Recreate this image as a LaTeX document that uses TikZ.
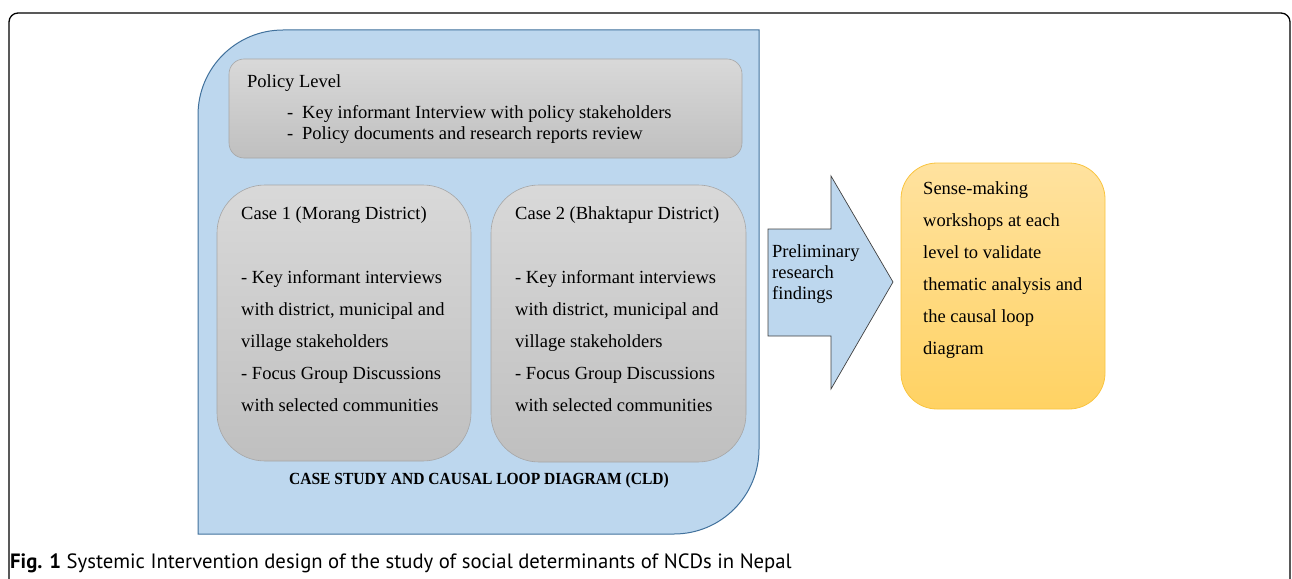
\documentclass[tikz,border=0pt]{standalone}
\usepackage{fontspec}
\setmainfont{Liberation Serif}
\newfontfamily\capfont{PT Sans}
\begin{document}
\begin{tikzpicture}[x=1pt,y=-1pt,
  graybox/.style={draw=black!35, top color=black!15, bottom color=black!25, line width=0.6pt},
  txt/.style={anchor=north west, inner sep=0pt, align=left, text=black},
  body/.style={font=\fontsize{18.5}{32}\selectfont},
  tight/.style={font=\fontsize{18.5}{21}\selectfont},
]
\useasboundingbox (0,0) rectangle (1292,578);
\definecolor{bluefill}{HTML}{BDD7EE}
\definecolor{blueline}{HTML}{41719C}
\definecolor{orangetop}{HTML}{FFE29F}
\definecolor{orangebot}{HTML}{FFD263}
\definecolor{orangeline}{HTML}{F9C43F}
\begin{scope}
\clip (0,0) rectangle (1292,578);
\draw[line width=1.3pt, rounded corners=9pt] (9,13) rectangle (1290,640);
\end{scope}
% blue container
\path[fill=bluefill, draw=blueline, line width=1pt]
  (198,534) -- (198,115) arc[start angle=180, end angle=270, radius=85] -- (759,30)
  -- (759,449) arc[start angle=0, end angle=90, radius=85] -- cycle;
% policy box
\path[graybox, rounded corners=15pt] (229,59) rectangle (742,158);
\node[txt, tight] (pl) at (247,74) {Policy Level};
\node[txt, tight] (pt) at (287,105) {\makebox[15pt][l]{-}Key informant Interview with policy stakeholders\\\makebox[15pt][l]{-}Policy documents and research reports review};
% case boxes
\path[graybox, rounded corners=48pt] (217,185) rectangle (471,461);
\path[graybox, rounded corners=48pt] (491,185) rectangle (746,462);
\node[txt, body] (c1) at (241,206) {Case 1 (Morang District)\\[32pt]- Key informant interviews\\with district, municipal and\\village stakeholders\\- Focus Group Discussions\\with selected communities};
\node[txt, body] (c2) at (515,206) {Case 2 (Bhaktapur District)\\[32pt]- Key informant interviews\\with district, municipal and\\village stakeholders\\- Focus Group Discussions\\with selected communities};
\node[font=\bfseries\fontsize{17}{19}\selectfont, inner sep=0pt] (cld) at (479,480) {\scalebox{0.914}[1]{CASE STUDY AND CAUSAL LOOP DIAGRAM (CLD)}};
% arrow
\path[fill=bluefill, draw=black!75, line width=0.7pt]
  (768,229) -- (831,229) -- (831,176) -- (893,282) -- (831,389) -- (831,336) -- (768,336) -- cycle;
\node[txt, tight] (pr) at (772,244) {Preliminary\\research\\findings};
% orange box
\path[draw=orangeline, top color=orangetop, bottom color=orangebot, line width=0.8pt, rounded corners=36pt] (901,163) rectangle (1105,409);
\node[txt, body] (sm) at (923,181) {Sense-making\\workshops at each\\level to validate\\thematic analysis and\\the causal loop\\diagram};
% caption
\node[anchor=west, inner sep=0pt, font=\capfont\fontsize{20.7}{23}\selectfont] (cap) at (10,563) {\textbf{Fig. 1} Systemic Intervention design of the study of social determinants of NCDs in Nepal};
\end{tikzpicture}
\end{document}
